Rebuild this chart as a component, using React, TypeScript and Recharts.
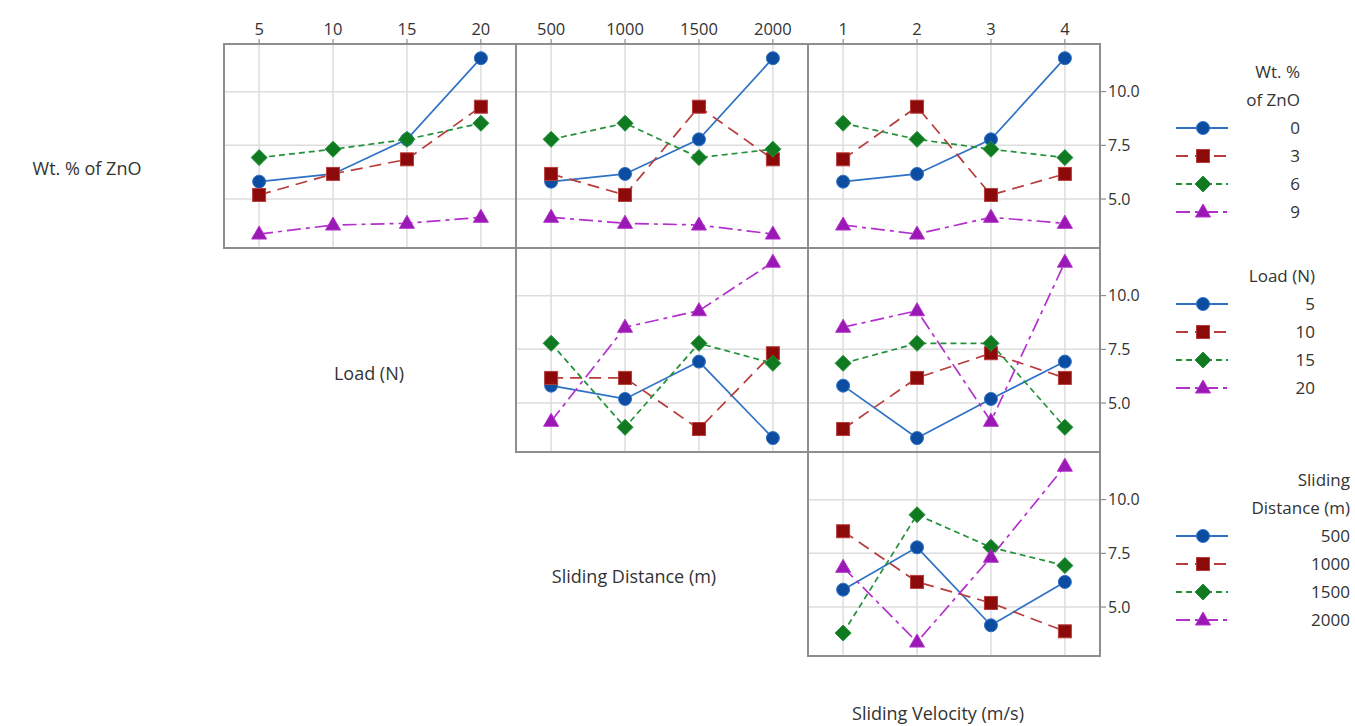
import React from "react";
import { LineChart, Line, XAxis, YAxis, CartesianGrid } from "recharts";

// factor levels
const znoLevels = [0, 3, 6, 9];
const loadLevels = [5, 10, 15, 20];
const distanceLevels = [500, 1000, 1500, 2000];
const velocityLevels = [1, 2, 3, 4];

// L16 runs: one response per run
const runZno = [0, 0, 0, 0, 3, 3, 3, 3, 6, 6, 6, 6, 9, 9, 9, 9];
const runLoad = [5, 10, 15, 20, 5, 10, 15, 20, 5, 10, 15, 20, 5, 10, 15, 20];
const runDistance = [500, 1000, 1500, 2000, 1000, 500, 2000, 1500, 1500, 2000, 500, 1000, 2000, 1500, 1000, 500];
const runVelocity = [1, 2, 3, 4, 3, 4, 1, 2, 4, 3, 2, 1, 2, 1, 4, 3];
const runWear = [5.81, 6.17, 7.78, 11.56, 5.19, 6.17, 6.85, 9.3, 6.93, 7.32, 7.78, 8.53, 3.37, 3.79, 3.87, 4.15];

const yTicks = [5, 7.5, 10];
const yDomain = [2.72, 12.22];

const factors = [
  { name: "Wt. % of ZnO", title: ["Wt. %", "of ZnO"], levels: znoLevels, runs: runZno },
  { name: "Load (N)", title: ["Load (N)"], levels: loadLevels, runs: runLoad },
  { name: "Sliding Distance (m)", title: ["Sliding", "Distance (m)"], levels: distanceLevels, runs: runDistance },
  { name: "Sliding Velocity (m/s)", title: [], levels: velocityLevels, runs: runVelocity },
];

const seriesStyles = [
  { line: "#2f72c4", fill: "#0c4da2", dash: undefined, shape: "circle" },
  { line: "#b83c3c", fill: "#8c0a0a", dash: "12 7", shape: "square" },
  { line: "#23913a", fill: "#0f7a1f", dash: "6 4", shape: "diamond" },
  { line: "#b330cc", fill: "#9a18b4", dash: "14 5 4 5", shape: "triangle" },
];

const FONT = "'Open Sans', 'Noto Sans', sans-serif";
const TEXT = "#333333";
const PANEL_W = 292;
const PANEL_H = 204;
const LEFT = 224;
const TOP = 44;
const legendRight = [1300, 1315, 1350];
const rowLabelPos = [
  { x: 87, y: 168 },
  { x: 369, y: 373 },
  { x: 634, y: 576 },
];

function marker(shape: string, cx: number, cy: number, fill: string, stroke: string, key?: string) {
  if (shape === "circle") return <circle key={key} cx={cx} cy={cy} r={6.5} fill={fill} stroke={stroke} strokeWidth={1} />;
  if (shape === "square")
    return <rect key={key} x={cx - 6.5} y={cy - 6.5} width={13} height={13} fill={fill} stroke={stroke} strokeWidth={1} />;
  if (shape === "diamond")
    return (
      <polygon
        key={key}
        points={`${cx},${cy - 8} ${cx + 8},${cy} ${cx},${cy + 8} ${cx - 8},${cy}`}
        fill={fill}
        stroke={stroke}
        strokeWidth={1}
      />
    );
  return (
    <polygon
      key={key}
      points={`${cx},${cy - 8} ${cx + 7.5},${cy + 5} ${cx - 7.5},${cy + 5}`}
      fill={fill}
      stroke={stroke}
      strokeWidth={1}
    />
  );
}

// response for each column level, one series per row-factor level
function panelData(r: number, c: number) {
  const rowF = factors[r];
  const colF = factors[c];
  return colF.levels.map((lv, i) => {
    const row: Record<string, number> = { i };
    rowF.levels.forEach((sv, s) => {
      const k = runWear.findIndex((_, j) => colF.runs[j] === lv && rowF.runs[j] === sv);
      row[`s${s}`] = runWear[k];
    });
    return row;
  });
}

function Panel({ r, c }: { r: number; c: number }) {
  const col = c - 1;
  const isTop = r === 0;
  const isRight = c === 3;
  const axisH = 30;
  const axisW = 50;
  const w = PANEL_W + (isRight ? axisW : 0);
  const h = PANEL_H + (isTop ? axisH : 0);
  const x = LEFT + col * PANEL_W;
  const y = TOP + r * PANEL_H;
  const levels = factors[c].levels;
  return (
    <>
      <div style={{ position: "absolute", left: x, top: y - (isTop ? axisH : 0) }}>
        <LineChart width={w} height={h} data={panelData(r, c)} margin={{ top: 0, right: 0, bottom: 0, left: 0 }}>
          <CartesianGrid stroke="#dddddd" strokeWidth={1.5} />
          <XAxis
            type="number"
            dataKey="i"
            domain={[-0.475, 3.475]}
            ticks={[0, 1, 2, 3]}
            orientation="top"
            hide={!isTop}
            height={axisH}
            axisLine={false}
            tickSize={5}
            tickMargin={4}
            tickLine={{ stroke: "#777" }}
            tick={{ fill: TEXT, fontSize: 16.5, fontFamily: FONT }}
            tickFormatter={(v: number) => String(levels[v])}
            allowDataOverflow
          />
          <YAxis
            type="number"
            domain={yDomain}
            ticks={yTicks}
            orientation="right"
            hide={!isRight}
            width={axisW}
            axisLine={false}
            tickSize={6}
            tickMargin={2}
            tickLine={{ stroke: "#777" }}
            tick={{ fill: TEXT, fontSize: 16, fontFamily: FONT, textAnchor: "start" }}
            tickFormatter={(v: number) => v.toFixed(1)}
            allowDataOverflow
          />
          {seriesStyles.map((st, s) => (
            <Line
              key={s}
              dataKey={`s${s}`}
              stroke={st.line}
              strokeWidth={1.7}
              strokeDasharray={st.dash}
              isAnimationActive={false}
              dot={(p: any) => marker(st.shape, p.cx, p.cy, st.fill, st.line, `d${s}-${p.index}`)}
              activeDot={false}
            />
          ))}
        </LineChart>
      </div>
      <div
        style={{
          position: "absolute",
          left: x - 1,
          top: y - 1,
          width: PANEL_W + 2,
          height: PANEL_H + 2,
          boxSizing: "border-box",
          border: "2px solid #8e8e8e",
          pointerEvents: "none",
        }}
      />
    </>
  );
}

function Legend({ r }: { r: number }) {
  const f = factors[r];
  const top = TOP + r * PANEL_H + 28;
  const right = legendRight[r];
  const lines = f.title.length;
  const text = {
    position: "absolute" as const,
    right: 1355 - right,
    fontSize: 17,
    lineHeight: "22px",
    color: TEXT,
    fontFamily: FONT,
    whiteSpace: "nowrap" as const,
  };
  return (
    <>
      {f.title.map((t, k) => (
        <div key={`t${k}`} style={{ ...text, top: top + k * 28 - 11 }}>
          {t}
        </div>
      ))}
      {f.levels.map((lv, s) => {
        const st = seriesStyles[s];
        const cy = top + (lines + s) * 28;
        return (
          <React.Fragment key={s}>
            <svg style={{ position: "absolute", left: 1172, top: cy - 10 }} width={62} height={20}>
              <line x1={4} x2={56} y1={10} y2={10} stroke={st.line} strokeWidth={2} strokeDasharray={st.dash} />
              {marker(st.shape, 31, 10, st.fill, st.line)}
            </svg>
            <div style={{ ...text, top: cy - 11 }}>{lv}</div>
          </React.Fragment>
        );
      })}
    </>
  );
}

function Label({ text, x, y }: { text: string; x: number; y: number }) {
  return (
    <div
      style={{
        position: "absolute",
        left: x - 150,
        top: y - 10,
        width: 300,
        textAlign: "center",
        fontSize: 18,
        lineHeight: "20px",
        color: TEXT,
        fontFamily: FONT,
      }}
    >
      {text}
    </div>
  );
}

export default function App() {
  const panels: { r: number; c: number }[] = [];
  for (let r = 0; r < 3; r++) for (let c = r + 1; c < 4; c++) panels.push({ r, c });
  return (
    <div style={{ position: "absolute", left: 0, top: 0, width: 1355, height: 726, background: "#fff", overflow: "hidden" }}>
      {panels.map((p) => (
        <Panel key={`${p.r}-${p.c}`} r={p.r} c={p.c} />
      ))}
      {[0, 1, 2].map((r) => (
        <Legend key={r} r={r} />
      ))}
      {rowLabelPos.map((pos, r) => (
        <Label key={r} text={factors[r].name} x={pos.x} y={pos.y} />
      ))}
      <Label text={factors[3].name} x={938} y={713} />
    </div>
  );
}
